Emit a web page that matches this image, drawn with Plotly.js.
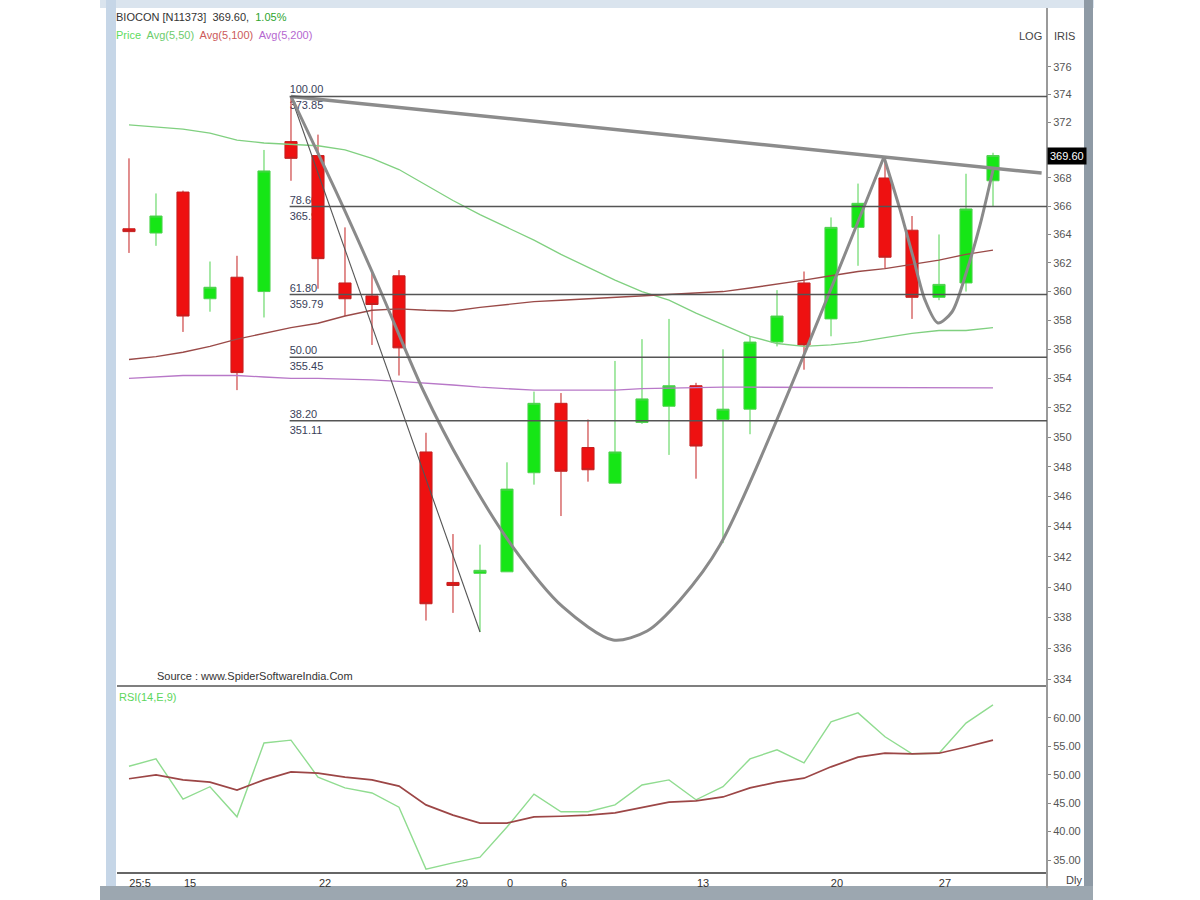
<!DOCTYPE html>
<html><head><meta charset="utf-8">
<script src="https://cdn.plot.ly/plotly-3.0.1.min.js"></script>
<style>html,body{margin:0;padding:0;background:#fff}#chart{width:1200px;height:900px}</style>
</head><body><div id="chart"></div>
<script>
// ---------------- DATA ----------------
const candleIdx = [0,1,2,3,4,5,6,7,8,9,10,11,12,13,14,15,16,17,18,19,20,21,22,23,24,25,26,27,28,29,30,31,32];
const openP  = [364.4,364.1,367.0,359.5,361.0,360.0,370.6,369.6,360.6,359.7,361.1,349.0,340.3,340.9,341.0,347.6,352.3,349.3,346.9,351.0,352.1,353.5,351.2,351.9,356.5,360.6,358.1,364.5,368.0,364.3,359.6,360.6,367.8];
const highP  = [369.4,366.9,367.1,362.1,362.5,370.0,373.85,371.1,364.5,361.5,361.5,350.3,343.5,342.8,348.3,353.1,353.0,351.2,355.2,356.7,358.1,353.7,356.0,356.9,360.1,361.4,365.2,367.6,369.5,365.3,364.0,368.3,369.8];
const lowP   = [362.7,363.2,357.2,358.6,353.2,358.2,367.8,360.2,358.3,356.3,354.2,337.8,338.3,337.05,341.0,346.8,344.7,347.0,346.9,350.9,348.8,347.2,342.9,350.2,356.2,354.6,356.9,361.8,361.6,358.1,359.4,360.0,366.0];
const closeP = [364.2,365.3,358.3,360.3,354.4,368.5,369.4,362.3,359.5,359.1,356.1,338.9,340.1,341.1,346.5,352.3,347.7,347.8,349.0,352.6,353.5,349.4,351.9,356.5,358.3,356.3,364.5,366.2,362.4,359.6,360.5,365.8,369.6];

const ma50  = [371.8,371.65,371.5,371.2,370.7,370.5,370.4,370.3,370.0,369.4,368.6,367.5,366.4,365.4,364.5,363.6,362.6,361.7,360.8,360.0,359.4,358.5,357.7,356.9,356.4,356.2,356.3,356.5,356.8,357.1,357.3,357.3,357.5];
const ma100 = [355.3,355.5,355.8,356.2,356.7,357.1,357.5,357.8,358.3,358.7,358.8,358.7,358.65,358.9,359.1,359.3,359.4,359.5,359.6,359.7,359.8,359.9,360.0,360.25,360.5,360.8,361.1,361.4,361.6,361.9,362.2,362.6,362.9];
const ma200 = [354.0,354.1,354.2,354.2,354.2,354.1,354.0,354.0,353.96,353.9,353.8,353.7,353.55,353.4,353.3,353.2,353.2,353.2,353.2,353.3,353.35,353.35,353.4,353.4,353.4,353.4,353.4,353.4,353.4,353.35,353.35,353.35,353.35];

const rsi       = [51.5,52.8,45.7,47.9,42.6,55.6,56.1,49.6,47.7,46.8,44.3,33.4,34.5,35.5,40.8,46.6,43.5,43.5,44.7,48.2,49.1,45.6,47.9,52.8,54.4,52.1,59.3,60.9,56.7,53.7,53.8,59.1,62.3];
const rsiSignal = [49.3,50.0,49.1,48.7,47.3,49.1,50.5,50.3,49.6,49.1,48.0,44.7,42.9,41.5,41.5,42.6,42.7,42.9,43.3,44.3,45.2,45.4,46.1,47.7,48.7,49.4,51.4,53.1,53.8,53.7,53.8,54.9,56.1];

const xTickLabels = ['25:5','15','22','29','0','6','13','20','27'];
const xTickIdx    = [0.41,2.26,7.26,12.33,14.11,16.11,21.26,26.22,30.22];

// 370 is hidden behind the last-price box in the reference
const priceTicks = [334,336,338,340,342,344,346,348,350,352,354,356,358,360,362,364,366,368,372,374,376];
const rsiTicks   = [35,40,45,50,55,60];

const fibPct   = ['100.00','78.60','61.80','50.00','38.20'];
const fibPrice = [373.85,365.97,359.79,355.45,351.11];

const cupIdx    = [6.0,7.81,9.30,10.89,12.37,14.22,16.07,17.93,19.19,20.41,21.89,27.96];
const cupPrice  = [373.85,366.44,360.11,353.21,347.98,342.64,338.69,336.53,337.12,339.15,342.77,369.5];
const handleIdx   = [27.96,28.56,29.04,29.48,29.96,30.48,31.04,31.52,32.0];
const handlePrice = [369.5,365.73,362.42,359.42,357.82,358.58,361.51,364.67,368.57];
const trendIdx   = [6.0,33.8];
const trendPrice = [373.85,368.35];
const flagIdx    = [6.0,13.0];
const flagPrice  = [373.85,337.05];

// ---------------- LAYOUT HELPERS ----------------
const W = 1200, H = 900, ML = 117, MR = 153, MT = 8, MB = 28;
const PW = W - ML - MR, PH = H - MT - MB;
const px = p => (p - ML) / PW;
const py = q => (H - MB - q) / PH;
const SPLIT = py(686);
const FONT = "'Liberation Sans', Arial, sans-serif";

const traces = [
  {type:'candlestick', x:candleIdx, open:openP, high:highP, low:lowP, close:closeP,
   xaxis:'x', yaxis:'y',
   increasing:{line:{color:'#4fd24f', width:1}, fillcolor:'#16e616'},
   decreasing:{line:{color:'#c42020', width:1}, fillcolor:'#ee1111'},
   whiskerwidth:0, hoverinfo:'skip', showlegend:false},
  {type:'scatter', mode:'lines', x:candleIdx, y:ma50, yaxis:'y', line:{color:'#80d080', width:1.3}, showlegend:false},
  {type:'scatter', mode:'lines', x:candleIdx, y:ma100, yaxis:'y', line:{color:'#9a4a48', width:1.4}, showlegend:false},
  {type:'scatter', mode:'lines', x:candleIdx, y:ma200, yaxis:'y', line:{color:'#b878c8', width:1.3}, showlegend:false},
  {type:'scatter', mode:'lines', x:flagIdx, y:flagPrice, yaxis:'y', line:{color:'#555', width:1.1}, showlegend:false},
  {type:'scatter', mode:'lines', x:trendIdx, y:trendPrice, yaxis:'y', line:{color:'#8c8c8c', width:3.5}, showlegend:false},
  {type:'scatter', mode:'lines', x:cupIdx, y:cupPrice, yaxis:'y', line:{color:'#8a8a8a', width:3, shape:'spline', smoothing:0.8}, showlegend:false},
  {type:'scatter', mode:'lines', x:handleIdx, y:handlePrice, yaxis:'y', line:{color:'#8a8a8a', width:3, shape:'spline', smoothing:0.8}, showlegend:false},
  {type:'scatter', mode:'lines', x:candleIdx, y:rsi, yaxis:'y2', line:{color:'#90dc90', width:1.4}, showlegend:false},
  {type:'scatter', mode:'lines', x:candleIdx, y:rsiSignal, yaxis:'y2', line:{color:'#9c4646', width:1.7}, showlegend:false}
];

const shapes = [];
// frame decoration
shapes.push({type:'rect', xref:'paper', yref:'paper', x0:px(100), x1:px(1094), y0:py(0), y1:py(8), fillcolor:'#dae4ee', line:{width:0}, layer:'below'});
shapes.push({type:'rect', xref:'paper', yref:'paper', x0:px(106), x1:px(116), y0:py(0), y1:py(886), fillcolor:'#c6d6e7', line:{width:0}, layer:'below'});
shapes.push({type:'rect', xref:'paper', yref:'paper', x0:px(1084), x1:px(1093), y0:py(0), y1:py(888), fillcolor:'#8e9aa5', line:{width:0}, layer:'below'});
shapes.push({type:'rect', xref:'paper', yref:'paper', x0:px(100), x1:px(1093), y0:py(886), y1:py(900), fillcolor:'#9ca7b0', line:{width:0}, layer:'below'});
// panel separator + right axis line
shapes.push({type:'line', xref:'paper', yref:'paper', x0:0, x1:1, y0:SPLIT, y1:SPLIT, line:{color:'#555', width:1.5}});
shapes.push({type:'line', xref:'paper', yref:'paper', x0:1, x1:1, y0:py(888), y1:py(8), line:{color:'#9a9a9a', width:2}});
// fibonacci lines + labels
fibPrice.forEach((p, i) => {
  shapes.push({type:'line', xref:'x', yref:'y', x0:5.95, x1:34.0, y0:p, y1:p, line:{color:'#555', width:1.5}, layer:'above'});
  shapes.push({type:'line', xref:'x', yref:'y', x0:5.95, x1:9, y0:p, y1:p, line:{color:'rgba(0,0,0,0)', width:1}, layer:'below',
    label:{text:fibPct[i], textposition:'start', xanchor:'left', yanchor:'bottom', padding:2, font:{family:FONT, size:11, color:'#3a3f5a'}}});
  shapes.push({type:'line', xref:'x', yref:'y', x0:5.95, x1:9, y0:p, y1:p, line:{color:'rgba(0,0,0,0)', width:1}, layer:'below',
    label:{text:p.toFixed(2), textposition:'start', xanchor:'left', yanchor:'top', padding:2, font:{family:FONT, size:11, color:'#3a3f5a'}}});
});

const annotations = [
  {xref:'paper', yref:'paper', x:px(114), y:py(17), xanchor:'left', yanchor:'middle', showarrow:false,
   text:'<span style="color:#333">BIOCON [N11373]  ' + closeP[closeP.length-1].toFixed(2) + ',</span>  <span style="color:#2ea52e">1.05%</span>',
   font:{family:FONT, size:11}},
  {xref:'paper', yref:'paper', x:px(114), y:py(35), xanchor:'left', yanchor:'middle', showarrow:false,
   text:'<span style="color:#5ddc5d">Price</span>  <span style="color:#6ccc6c">Avg(5,50)</span>  <span style="color:#cc5a5a">Avg(5,100)</span>  <span style="color:#b567d0">Avg(5,200)</span>',
   font:{family:FONT, size:11}},
  {xref:'paper', yref:'paper', x:px(1044), y:py(36), xanchor:'right', yanchor:'middle', showarrow:false, text:'LOG', font:{family:FONT, size:11, color:'#444'}},
  {xref:'paper', yref:'paper', x:px(1052), y:py(36), xanchor:'left', yanchor:'middle', showarrow:false, text:'IRIS', font:{family:FONT, size:11, color:'#444'}},
  {xref:'paper', yref:'paper', x:px(155), y:py(676), xanchor:'left', yanchor:'middle', showarrow:false, text:'Source : www.SpiderSoftwareIndia.Com', font:{family:FONT, size:11, color:'#333'}},
  {xref:'paper', yref:'paper', x:px(117), y:py(697), xanchor:'left', yanchor:'middle', showarrow:false, text:'RSI(14,E,9)', font:{family:FONT, size:11, color:'#5cd65c'}},
  {xref:'paper', yref:'paper', x:px(1064), y:py(880), xanchor:'left', yanchor:'middle', showarrow:false, text:'Dly', font:{family:FONT, size:11, color:'#444'}},
  {xref:'paper', yref:'y', x:1, y:Math.log10(closeP[closeP.length-1]), xanchor:'left', yanchor:'middle', showarrow:false,
   text:closeP[closeP.length-1].toFixed(2), bgcolor:'#000', borderpad:2, font:{family:FONT, size:11, color:'#fff'}}
];

const layout = {
  width:W, height:H,
  margin:{l:ML, r:MR, t:MT, b:MB, pad:0},
  paper_bgcolor:'#fff', plot_bgcolor:'#fff',
  showlegend:false,
  boxgap:0.36,
  xaxis:{domain:[0,1], anchor:'y2', range:[-0.444, 34.0], showgrid:false, zeroline:false,
         showline:true, linecolor:'#666', linewidth:1.5, ticks:'',
         tickmode:'array', tickvals:xTickIdx, ticktext:xTickLabels,
         tickfont:{family:FONT, size:11, color:'#333'}, rangeslider:{visible:false}},
  yaxis:{domain:[SPLIT,1], anchor:'x', side:'right', type:'log', range:[2.52316, 2.58013],
         showgrid:false, zeroline:false, showline:false,
         tickmode:'array', tickvals:priceTicks, ticktext:priceTicks.map(String),
         ticks:'outside', ticklen:3, tickcolor:'#888', tickfont:{family:FONT, size:11, color:'#555'}},
  yaxis2:{domain:[0,SPLIT], anchor:'x', side:'right', range:[32.89, 65.63],
         showgrid:false, zeroline:false, showline:false,
         tickmode:'array', tickvals:rsiTicks, ticktext:rsiTicks.map(v => v.toFixed(2)),
         ticks:'outside', ticklen:3, tickcolor:'#888', tickfont:{family:FONT, size:11, color:'#555'}},
  shapes:shapes,
  annotations:annotations
};

Plotly.newPlot('chart', traces, layout, {staticPlot:true, displayModeBar:false});
</script>
</body></html>
